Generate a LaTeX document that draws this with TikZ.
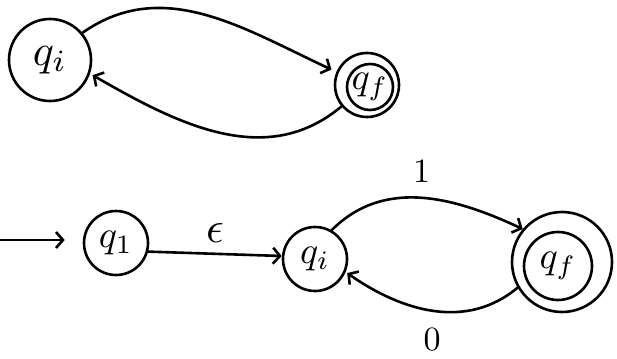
\documentclass[tikz,border=0pt]{standalone}
\usetikzlibrary{arrows.meta}
\newcommand{\bigtxt}[1]{\scalebox{4.4}{#1}}
\newcommand{\smalltxt}[1]{\scalebox{3.8}{#1}}
\newcommand{\labtxt}[1]{\scalebox{3.4}{#1}}
\begin{document}
\begin{tikzpicture}[x=1pt,y=-1pt,
  line width=2.6pt, line cap=round, line join=round,
  tip/.style={-{Straight Barb[length=7pt,width=16pt,line width=2.6pt]}},
  state/.style={draw, circle, inner sep=0pt},
  txt/.style={inner sep=0pt}]
\useasboundingbox (0,0) rectangle (617,358);

% upper automaton
\node[state, minimum size=82pt] (qiA) at (50,60) {};
\node[txt] (qiAt) at (qiA) {\bigtxt{$q_i$}};
\node[state, minimum size=64pt] (qfA) at (367,85) {};
\node[state, minimum size=46pt] (qfAi) at (370,87) {};
\node[txt] (qfAt) at (qfAi) {\smalltxt{$q_f$}};
\draw[tip] (qiA.40) to[out=35,in=155] ([xshift=-10pt,yshift=-6pt]qfA.140);
\draw[tip] (qfA.220) to[out=-140,in=-30] ([xshift=6pt,yshift=6pt]qiA.-30);

% lower automaton
\node[state, minimum size=64pt] (q1) at (116,243) {};
\node[txt] (q1t) at (q1) {\smalltxt{$q_1$}};
\node[state, minimum size=64pt] (qiB) at (315,259) {};
\node[txt] (qiBt) at (qiB) {\smalltxt{$q_i$}};
\node[state, minimum size=100pt] (qfB) at (562,262) {};
\node[state, minimum size=68pt] (qfBi) at (558,266) {};
\node[txt] (qfBt) at (qfBi) {\smalltxt{$q_f$}};
\coordinate (start) at (0,240);

\draw[tip] (start) -- ([xshift=-18pt]q1.west |- start);
\draw[tip] (q1.-15) -- node[above=10pt, txt] {\scalebox{4.4}{$\epsilon$}} (qiB.west |- 0,256);
\draw[tip] (qiB.60) to[out=45,in=155] node[above=14pt, txt] {\labtxt{1}} (qfB.140);
\draw[tip] (qfB.210) to[out=-140,in=-35] ([xshift=2pt]qiB.-25);
\node[txt] (zero) at (432,340) {\labtxt{0}};
\end{tikzpicture}
\end{document}
